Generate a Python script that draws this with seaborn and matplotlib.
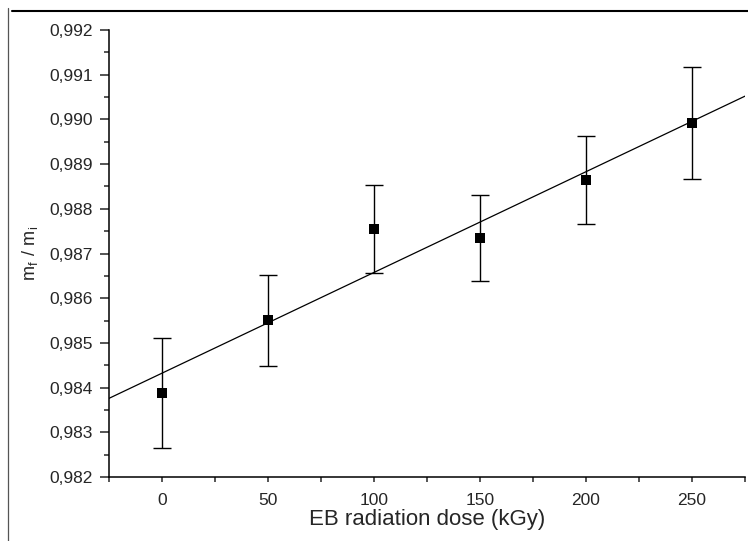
import numpy as np
import pandas as pd
import matplotlib
matplotlib.use("Agg")
import matplotlib.pyplot as plt
import seaborn as sns
from matplotlib.ticker import MultipleLocator, FuncFormatter
from matplotlib.lines import Line2D

# Mass ratio after / before irradiation
dose = [0, 50, 100, 150, 200, 250]  # kGy
ratio = [0.98387, 0.98551, 0.98755, 0.98735, 0.98864, 0.98992]
ratio_err = [0.00123, 0.00102, 0.00098, 0.00097, 0.00098, 0.00125]

df = pd.DataFrame({"dose": dose, "ratio": ratio, "err": ratio_err})

sns.set_style("white")
plt.rcParams["font.family"] = ["Liberation Sans", "DejaVu Sans"]
plt.rcParams["mathtext.fontset"] = "custom"
plt.rcParams["mathtext.rm"] = "Liberation Sans"

fig = plt.figure(figsize=(7.48, 5.41), dpi=100)
ax = fig.add_axes([0.1457, 0.1183, 0.8503, 0.8262])
ax.set_xlim(-25, 275)
ax.set_ylim(0.982, 0.992)

# linear fit over the whole x range
sns.regplot(data=df, x="dose", y="ratio", ax=ax, scatter=False, ci=None,
            truncate=False, color="black", line_kws={"linewidth": 0.9})

# error bars + square markers
ax.errorbar(df["dose"], df["ratio"], yerr=df["err"], fmt="none",
            ecolor="black", elinewidth=1.0, capsize=6.5, capthick=1.0, zorder=3)
sns.scatterplot(data=df, x="dose", y="ratio", ax=ax, marker="s", s=62,
                color="black", linewidth=0, zorder=4)

ax.set_xlim(-25, 275)
ax.set_ylim(0.982, 0.992)

# Origin-like axes
for side in ["top", "right"]:
    ax.spines[side].set_visible(False)
for side in ["left", "bottom"]:
    ax.spines[side].set_linewidth(1.1)
    ax.spines[side].set_color("black")

ax.xaxis.set_major_locator(MultipleLocator(50))
ax.xaxis.set_minor_locator(MultipleLocator(25))
ax.yaxis.set_major_locator(MultipleLocator(0.001))
ax.yaxis.set_minor_locator(MultipleLocator(0.0005))
ax.yaxis.set_major_formatter(FuncFormatter(lambda v, p: f"{v:.3f}".replace(".", ",")))

ax.tick_params(axis="y", which="major", direction="out", length=6.5, width=1.1,
               left=True, labelsize=12.5, pad=5)
ax.tick_params(axis="y", which="minor", direction="out", length=3.5, width=1.1, left=True)
ax.tick_params(axis="x", which="major", direction="out", length=3.5, width=1.1,
               bottom=True, labelsize=12.5, pad=8)
ax.tick_params(axis="x", which="minor", direction="out", length=3.5, width=1.1, bottom=True)

ax.set_xlabel("EB radiation dose (kGy)", fontsize=16, labelpad=1)
ax.set_ylabel(r"$\mathregular{m_f\ /\ m_i}$", fontsize=13, labelpad=7)

# page border lines from the original scan
fig.add_artist(Line2D([12 / 748, 1.0], [1 - 11 / 541, 1 - 11 / 541],
                      transform=fig.transFigure, color="black", linewidth=1.5))
fig.add_artist(Line2D([8 / 748, 8 / 748], [0.0, 1 - 8 / 541],
                      transform=fig.transFigure, color="#555555", linewidth=0.9))

fig.savefig("out.png", dpi=100)
